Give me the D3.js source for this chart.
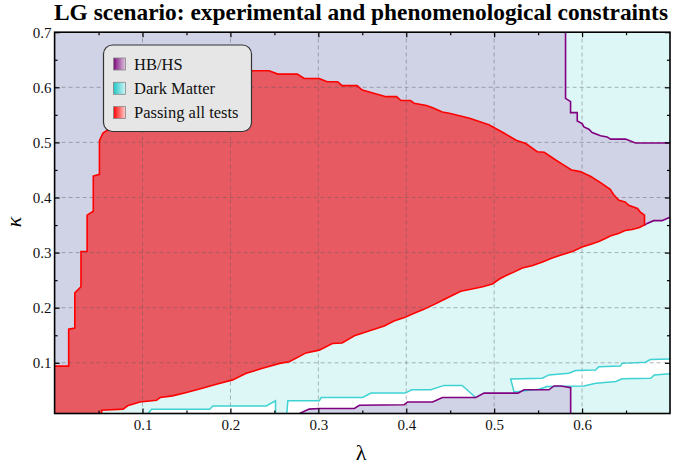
<!DOCTYPE html>
<html>
<head>
<meta charset="utf-8">
<script src="https://cdn.jsdelivr.net/npm/d3@7"></script>
<style>
  body { margin: 0; background: #fff; }
  svg { display: block; font-family: "Liberation Serif", "Times New Roman", serif; }
</style>
</head>
<body>
<svg width="673" height="470"></svg>
<script>
// tick values
const lambdaTicks = [0.1, 0.2, 0.3, 0.4, 0.5, 0.6];
const kappaTicks = [0.1, 0.2, 0.3, 0.4, 0.5, 0.6, 0.7];
const lambdaMinor = [0.05, 0.15, 0.25, 0.35, 0.45, 0.55, 0.65];
const kappaMinor = [0.15, 0.25, 0.35, 0.45, 0.55, 0.65];

// passing-all-tests region, boundary in (lambda, kappa)
const redLeft = [[0,0.094],[0.016,0.094],[0.016,0.161],[0.023,0.163],[0.023,0.227],[0.030,0.238],[0.030,0.302],[0.037,0.302],[0.037,0.368],[0.044,0.375],[0.044,0.439],[0.051,0.442],[0.051,0.503],[0.055,0.517],[0.061,0.523]];
const redTop = [[0.07,0.545],[0.09,0.57],[0.12,0.593],[0.16,0.612],[0.20,0.625],[0.224,0.630],[0.244,0.630],[0.254,0.624],[0.276,0.624],[0.284,0.616],[0.301,0.616],[0.310,0.610],[0.322,0.610],[0.327,0.603],[0.344,0.603],[0.350,0.595],[0.361,0.590],[0.377,0.583],[0.389,0.583],[0.394,0.576],[0.405,0.576],[0.409,0.571],[0.423,0.567],[0.430,0.563],[0.441,0.555],[0.449,0.553],[0.472,0.544],[0.494,0.532],[0.511,0.517],[0.525,0.504],[0.536,0.498],[0.549,0.483],[0.557,0.482],[0.570,0.468],[0.577,0.461],[0.588,0.450],[0.598,0.447],[0.610,0.438],[0.621,0.427],[0.632,0.415],[0.636,0.405],[0.642,0.395],[0.649,0.392],[0.653,0.386],[0.663,0.380],[0.666,0.374],[0.671,0.368],[0.671,0.350]];
const redBottom = [[0.6645,0.345],[0.657,0.342],[0.649,0.340],[0.642,0.335],[0.632,0.330],[0.627,0.326],[0.619,0.320],[0.610,0.315],[0.600,0.310],[0.589,0.302],[0.577,0.296],[0.566,0.290],[0.555,0.283],[0.543,0.276],[0.532,0.272],[0.523,0.265],[0.513,0.258],[0.506,0.252],[0.498,0.243],[0.487,0.238],[0.472,0.233],[0.462,0.230],[0.4545,0.224],[0.443,0.215],[0.432,0.206],[0.420,0.197],[0.409,0.190],[0.398,0.182],[0.386,0.176],[0.375,0.167],[0.361,0.1595],[0.341,0.149],[0.327,0.136],[0.316,0.135],[0.301,0.123],[0.286,0.118],[0.267,0.102],[0.256,0.099],[0.2365,0.090],[0.218,0.081],[0.2025,0.069],[0.184,0.061],[0.168,0.054],[0.150,0.046],[0.134,0.040],[0.120,0.037],[0.116,0.032],[0.097,0.029],[0.083,0.022],[0.078,0.016],[0.0535,0.014],[0.0535,0.008]];

// HB/HS contours
const hbTop = [[0.5812,0.7],[0.5812,0.580],[0.5869,0.574],[0.5869,0.554],[0.5945,0.554],[0.5945,0.539],[0.6001,0.534],[0.6021,0.528],[0.6077,0.524],[0.6115,0.518],[0.6210,0.512],[0.6285,0.510],[0.6324,0.506],[0.6494,0.506],[0.6607,0.499],[0.7,0.499]];
const hbTip = [[0.671,0.350],[0.674,0.353],[0.6815,0.358],[0.6909,0.358],[0.6966,0.362],[0.7,0.364]];
const hbBottom = [[0.2786,0.008],[0.2895,0.016],[0.3012,0.017],[0.341,0.017],[0.3467,0.023],[0.3977,0.024],[0.4015,0.029],[0.4299,0.029],[0.4412,0.037],[0.4791,0.037],[0.4885,0.045],[0.5271,0.045],[0.5339,0.051],[0.5623,0.051],[0.568,0.058],[0.5759,0.058],[0.587,0.055],[0.587,0.008]];

// Dark matter contours
const dmLine1 = [[0.1064,0.008],[0.1102,0.0156],[0.1764,0.0156],[0.1801,0.0216],[0.2407,0.0216],[0.2513,0.031],[0.2513,0.008]];
const dmLine2 = [[0.2641,0.008],[0.2653,0.031],[0.3012,0.031],[0.3032,0.037],[0.3504,0.037],[0.3599,0.045],[0.3989,0.045],[0.4062,0.051],[0.428,0.051],[0.4431,0.059],[0.4636,0.059],[0.4783,0.038]];
const dmUpper = [[0.5188,0.0706],[0.5547,0.072],[0.5623,0.078],[0.585,0.081],[0.5926,0.086],[0.6153,0.087],[0.6191,0.093],[0.6437,0.094],[0.6455,0.099],[0.6721,0.101],[0.6777,0.106],[0.7,0.107]];
const dmLower = [[0.5226,0.047],[0.551,0.052],[0.56,0.057],[0.602,0.058],[0.6157,0.063],[0.6384,0.066],[0.6455,0.071],[0.6781,0.072],[0.6821,0.078],[0.7,0.080]];

const legendLabels = ["HB/HS", "Dark Matter", "Passing all tests"];
const legendColors = [["#7a0a7a", "#e2c4e2"], ["#1fc6c6", "#d2f6f6"], ["#ff0000", "#ffd0d0"]];

const svg = d3.select("svg");
const x = d3.scaleLinear().domain([0, 0.7]).range([54.6, 670]);
const y = d3.scaleLinear().domain([0.008, 0.7]).range([413.5, 32.2]);
const line = d3.line().x(d => x(d[0])).y(d => y(d[1]));
const closed = pts => line(pts) + "Z";

// gradients for the legend swatches
const defs = svg.append("defs");
legendColors.forEach((c, i) => {
  const g = defs.append("linearGradient").attr("id", "sw" + i);
  g.append("stop").attr("offset", "0%").attr("stop-color", c[0]);
  g.append("stop").attr("offset", "100%").attr("stop-color", c[1]);
});
defs.append("clipPath").attr("id", "plot").append("rect")
  .attr("x", x(0)).attr("y", y(0.7)).attr("width", x(0.7) - x(0)).attr("height", y(0.008) - y(0.7));

const plot = svg.append("g").attr("clip-path", "url(#plot)");

// dark matter allowed background
plot.append("rect")
  .attr("x", x(0)).attr("y", y(0.7)).attr("width", x(0.7) - x(0)).attr("height", y(0.008) - y(0.7))
  .attr("fill", "#ddf7f7");

// white gaps between the DM contours
const white1 = dmLine1;
const white2 = dmLine2.concat([[0.4783, 0.008]]);
const white3 = dmUpper.concat(dmLower.slice().reverse());
[white1, white2, white3].forEach(p => plot.append("path").attr("d", closed(p)).attr("fill", "#fff"));

// HB/HS excluded regions
plot.append("path").attr("d", closed(hbBottom)).attr("fill", "#d0d2e6");
const hbRegion = [[0, 0.7]].concat(hbTop, hbTip.slice().reverse(), redTop.slice().reverse(), redLeft.slice().reverse());
plot.append("path").attr("d", closed(hbRegion)).attr("fill", "#d0d2e6");

// passing all tests
const redRegion = [[0, 0.008]].concat(redLeft, redTop, redBottom);
plot.append("path").attr("d", closed(redRegion)).attr("fill", "#e85a61");

// grid
const grid = plot.append("g").attr("stroke", "rgba(90,90,100,0.45)").attr("stroke-dasharray", "4,3").attr("stroke-width", 1);
lambdaTicks.forEach(v => grid.append("line").attr("x1", x(v)).attr("x2", x(v)).attr("y1", y(0.008)).attr("y2", y(0.7)));
kappaTicks.slice(0, 6).forEach(v => grid.append("line").attr("y1", y(v)).attr("y2", y(v)).attr("x1", x(0)).attr("x2", x(0.7)));

// contour lines
const dmBand = dmLower.slice().reverse().concat(dmUpper);
[dmLine1, dmLine2, dmBand].forEach(p => plot.append("path").attr("d", line(p))
  .attr("fill", "none").attr("stroke", "#3ed2d2").attr("stroke-width", 1.5));
[hbTop, hbTip, hbBottom].forEach(p => plot.append("path").attr("d", line(p))
  .attr("fill", "none").attr("stroke", "#800080").attr("stroke-width", 1.6));
plot.append("path").attr("d", line(redLeft.concat(redTop, redBottom)))
  .attr("fill", "none").attr("stroke", "#ff0000").attr("stroke-width", 1.6);

// frame
svg.append("rect")
  .attr("x", x(0)).attr("y", y(0.7)).attr("width", x(0.7) - x(0)).attr("height", y(0.008) - y(0.7))
  .attr("fill", "none").attr("stroke", "#000").attr("stroke-width", 1.6);

const fmt = d3.format(".1f");
const axes = [
  { a: d3.axisBottom(x).tickValues(lambdaTicks).tickFormat(fmt).tickSize(-5).tickPadding(6), t: `translate(0,${y(0.008)})` },
  { a: d3.axisBottom(x).tickValues(lambdaMinor).tickFormat("").tickSize(-3), t: `translate(0,${y(0.008)})` },
  { a: d3.axisTop(x).tickValues(lambdaTicks).tickFormat("").tickSize(-5), t: `translate(0,${y(0.7)})` },
  { a: d3.axisTop(x).tickValues(lambdaMinor).tickFormat("").tickSize(-3), t: `translate(0,${y(0.7)})` },
  { a: d3.axisLeft(y).tickValues(kappaTicks).tickFormat(fmt).tickSize(-5).tickPadding(3), t: `translate(${x(0)},0)` },
  { a: d3.axisLeft(y).tickValues(kappaMinor).tickFormat("").tickSize(-3), t: `translate(${x(0)},0)` },
  { a: d3.axisRight(y).tickValues(kappaTicks).tickFormat("").tickSize(-5), t: `translate(${x(0.7)},0)` },
  { a: d3.axisRight(y).tickValues(kappaMinor).tickFormat("").tickSize(-3), t: `translate(${x(0.7)},0)` }
];
axes.forEach(o => {
  const g = svg.append("g").attr("transform", o.t).call(o.a.tickSizeOuter(0));
  g.select(".domain").remove();
  g.selectAll("line").attr("stroke-width", 1.2);
  g.selectAll("text").attr("font-family", "Liberation Serif, serif").attr("font-size", 15).attr("fill", "#111");
});

// axis titles
svg.append("text").attr("x", 361).attr("y", 460).attr("text-anchor", "middle")
  .attr("font-size", 22).text("λ");
svg.append("text").attr("transform", "translate(21,222) rotate(-90)").attr("text-anchor", "middle")
  .attr("font-size", 22).attr("font-style", "italic").text("κ");

// title
svg.append("text").attr("x", 361).attr("y", 20).attr("text-anchor", "middle")
  .attr("font-size", 23.4).attr("font-weight", "bold")
  .text("LG scenario: experimental and phenomenological constraints");

// legend
const lg = svg.append("g");
lg.append("rect").attr("x", 103.5).attr("y", 45).attr("width", 148).attr("height", 86.5).attr("rx", 9)
  .attr("fill", "#e6e6e6").attr("stroke", "#333").attr("stroke-width", 1.2);
legendLabels.forEach((lab, i) => {
  const cy = 64 + i * 24.3;
  lg.append("rect").attr("x", 113.5).attr("y", cy - 6).attr("width", 12).attr("height", 12)
    .attr("fill", `url(#sw${i})`).attr("stroke", "#888").attr("stroke-width", 0.8);
  lg.append("text").attr("x", 134).attr("y", cy + 5.5).attr("font-size", 16.5).attr("fill", "#111").text(lab);
});
</script>
</body>
</html>
